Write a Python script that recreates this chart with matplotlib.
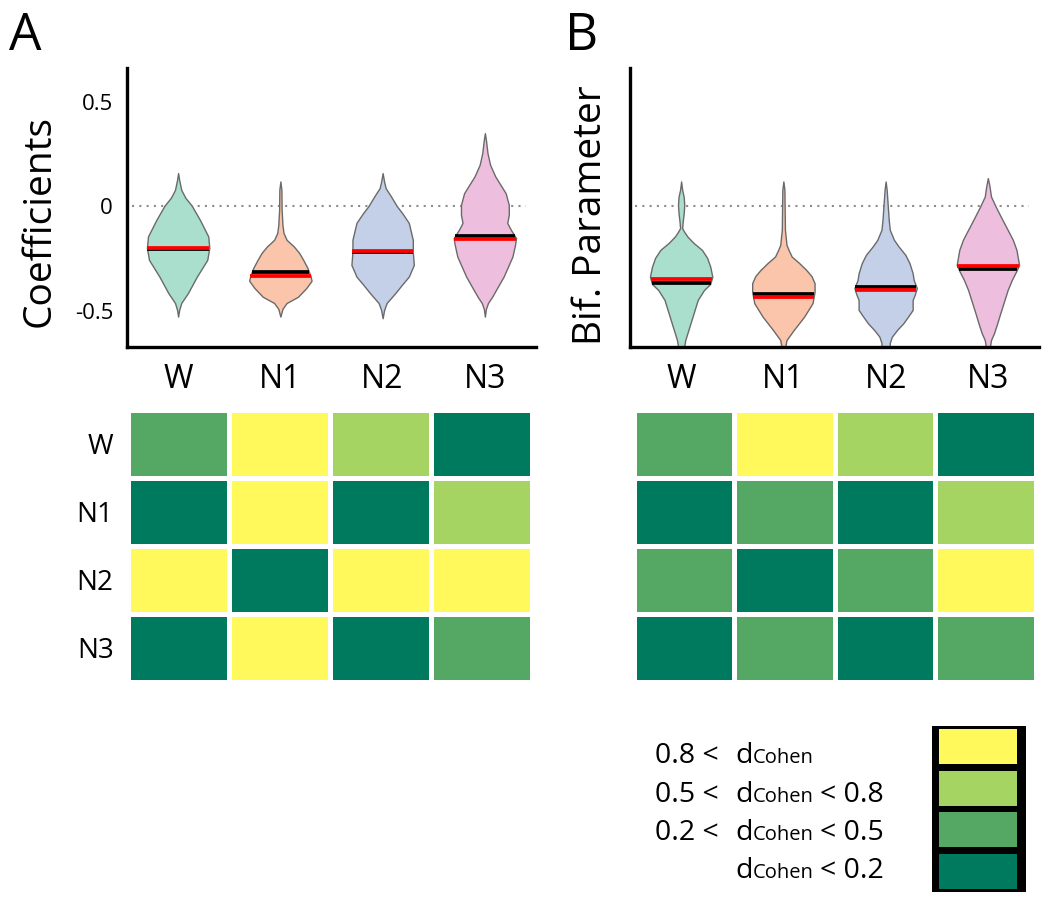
import numpy as np
import matplotlib
matplotlib.use("Agg")
import matplotlib.pyplot as plt
from matplotlib.colors import ListedColormap, BoundaryNorm

plt.rcParams['font.family'] = ['Open Sans', 'DejaVu Sans']

# ---------------- data ----------------
stages = ["W", "N1", "N2", "N3"]
violin_colors = ["#AADECD", "#FAC5AA", "#C4D0E8", "#EEBEDE"]

# violin profiles: (value, relative density) from bottom to top
coef_W = [(-0.527, 0), (-0.495, 1), (-0.462, 3), (-0.414, 9.5), (-0.336, 18), (-0.256, 28), (-0.199, 30),
          (-0.144, 29), (-0.065, 21), (0.004, 13), (0.041, 7), (0.079, 3), (0.127, 1), (0.159, 0)]
coef_N1 = [(-0.527, 0), (-0.490, 2), (-0.462, 6), (-0.432, 17), (-0.390, 25), (-0.356, 30), (-0.333, 29),
           (-0.294, 26), (-0.256, 22), (-0.222, 18), (-0.192, 13), (-0.160, 6), (-0.127, 3), (-0.089, 2),
           (-0.017, 1.2), (0.079, 1), (0.119, 0)]
coef_N2 = [(-0.535, 0), (-0.495, 1.5), (-0.462, 4), (-0.415, 12.5), (-0.376, 19), (-0.336, 26), (-0.280, 31),
           (-0.218, 30), (-0.160, 30), (-0.079, 26), (-0.036, 20), (0.002, 14), (0.050, 8), (0.087, 3),
           (0.117, 1.5), (0.159, 0)]
coef_N3 = [(-0.527, 0), (-0.490, 1), (-0.462, 3), (-0.432, 7), (-0.336, 18), (-0.240, 26.5), (-0.184, 29),
           (-0.152, 30), (-0.112, 25), (-0.079, 21.5), (-0.041, 23), (0.007, 23), (0.063, 20), (0.103, 15),
           (0.143, 10), (0.199, 5), (0.255, 2.5), (0.318, 1), (0.350, 0)]
coef_means = [-0.200, -0.333, -0.214, -0.157]
coef_medians = [-0.205, -0.316, -0.218, -0.141]

bif_W = [(-0.700, 2), (-0.667, 3), (-0.639, 4), (-0.591, 7), (-0.543, 10), (-0.495, 13), (-0.447, 16),
         (-0.400, 22), (-0.371, 28), (-0.336, 30), (-0.288, 28), (-0.246, 25), (-0.208, 20), (-0.175, 12),
         (-0.144, 6), (-0.122, 3), (-0.104, 1), (-0.074, 1.5), (-0.032, 2.5), (0.007, 3), (0.045, 2.5),
         (0.079, 1), (0.119, 0)]
bif_N1 = [(-0.700, 1.5), (-0.667, 2), (-0.639, 3), (-0.591, 10), (-0.527, 20), (-0.463, 28), (-0.409, 30),
          (-0.367, 30), (-0.333, 27), (-0.304, 22), (-0.270, 15), (-0.240, 8), (-0.208, 5), (-0.184, 3),
          (-0.112, 1.5), (0.079, 1), (0.119, 0)]
bif_N2 = [(-0.700, 4), (-0.653, 4), (-0.623, 6), (-0.591, 11), (-0.559, 17), (-0.524, 22), (-0.495, 26),
          (-0.447, 26), (-0.423, 28), (-0.391, 30), (-0.352, 27), (-0.320, 26), (-0.272, 23), (-0.232, 19),
          (-0.192, 12.5), (-0.160, 8), (-0.112, 4), (-0.065, 3), (0.007, 2), (0.079, 1), (0.119, 0)]
bif_N3 = [(-0.700, 1), (-0.639, 3), (-0.605, 6), (-0.559, 9), (-0.510, 12), (-0.463, 15), (-0.400, 19),
          (-0.352, 23), (-0.313, 27), (-0.280, 30), (-0.208, 27.5), (-0.160, 24), (-0.112, 19), (-0.055, 13),
          (-0.001, 7.5), (0.047, 3), (0.098, 1.5), (0.135, 0)]
bif_means = [-0.348, -0.432, -0.400, -0.285]
bif_medians = [-0.365, -0.419, -0.384, -0.300]

# effect-size categories: 0: d<0.2, 1: 0.2-0.5, 2: 0.5-0.8, 3: >0.8
effect_A = [[1, 3, 2, 0],
            [0, 3, 0, 2],
            [3, 0, 3, 3],
            [0, 3, 0, 1]]
effect_B = [[1, 3, 2, 0],
            [0, 1, 0, 2],
            [1, 0, 1, 3],
            [0, 1, 0, 1]]
effect_colors = ["#007A5E", "#55A864", "#A6D463", "#FFF95C"]
legend_prefix = ["0.8 <", "0.5 <", "0.2 <", ""]
legend_suffix = ["", "< 0.8", "< 0.5", "< 0.2"]

# ---------------- figure ----------------
W, H = 1050, 900
fig = plt.figure(figsize=(W / 100, H / 100), dpi=100)


def frac(x0, y0, x1, y1):
    return [x0 / W, 1 - y1 / H, (x1 - x0) / W, (y1 - y0) / H]


VW = 0.61


def violin_panel(ax, profiles, means, medians, yticks):
    stats = []
    for prof, m, md in zip(profiles, means, medians):
        arr = np.array(prof, dtype=float)
        stats.append(dict(coords=arr[:, 0], vals=arr[:, 1], mean=m, median=md,
                          min=arr[0, 0], max=arr[-1, 0]))
    pos = np.arange(len(profiles))
    parts = ax.violin(stats, positions=pos, widths=VW, showextrema=False)
    for body, c in zip(parts['bodies'], violin_colors):
        body.set_facecolor(c)
        body.set_edgecolor('#6A6A6A')
        body.set_linewidth(1.0)
        body.set_alpha(1)
        body.set_zorder(2)
    for i, st in enumerate(stats):
        mx = st['vals'].max()
        for val, col, z in ((st['median'], 'black', 3), (st['mean'], '#FF0000', 4)):
            hw = np.interp(val, st['coords'], st['vals']) / mx * VW / 2
            ax.plot([i - hw, i + hw], [val, val], color=col, lw=2.7, solid_capstyle='butt', zorder=z)
    ax.plot([-0.45, 3.4], [0, 0], color='#8C8C8C', lw=1.5, linestyle=(0, (1, 2.5)), zorder=1)
    ax.set_xlim(-0.5, 3.5)
    ax.set_ylim(-0.67, 0.66)
    for s in ('top', 'right'):
        ax.spines[s].set_visible(False)
    for s in ('left', 'bottom'):
        ax.spines[s].set_linewidth(2.4)
    ax.set_xticks(pos)
    ax.set_xticklabels(stages, fontsize=23)
    ax.tick_params(axis='x', length=0, pad=12)
    if yticks:
        ax.set_yticks([-0.5, 0, 0.5])
        ax.set_yticklabels(['-0.5', '0', '0.5'], fontsize=16)
        ax.tick_params(axis='y', length=0, pad=10)
    else:
        ax.set_yticks([])
    ax.set_facecolor('none')


axA = fig.add_axes(frac(127, 68.3, 536, 346.5))
violin_panel(axA, [coef_W, coef_N1, coef_N2, coef_N3], coef_means, coef_medians, True)
axB = fig.add_axes(frac(630, 68.3, 1039, 346.5))
violin_panel(axB, [bif_W, bif_N1, bif_N2, bif_N3], bif_means, bif_medians, False)

fig.text(40 / W, 1 - 221 / H, "Coefficients", rotation=90, fontsize=28, ha='center', va='center')
fig.text(591 / W, 1 - 215 / H, "Bif. Parameter", rotation=90, fontsize=28, ha='center', va='center')
fig.text(9 / W, 1 - 50 / H, "A", fontsize=37, ha='left', va='baseline')
fig.text(565 / W, 1 - 50 / H, "B", fontsize=37, ha='left', va='baseline')

cmap = ListedColormap(effect_colors)
norm = BoundaryNorm([-0.5, 0.5, 1.5, 2.5, 3.5], cmap.N)


def heat_panel(ax, data, labels):
    ax.pcolormesh(np.arange(5), np.arange(5), np.array(data), cmap=cmap, norm=norm,
                  edgecolors='white', linewidth=3.6)
    ax.set_xlim(0, 4)
    ax.set_ylim(4, 0)
    for s in ax.spines.values():
        s.set_visible(False)
    ax.set_xticks([])
    if labels:
        ax.set_yticks(np.arange(4) + 0.5)
        ax.set_yticklabels(stages, fontsize=20)
        ax.tick_params(axis='y', length=0, pad=10)
    else:
        ax.set_yticks([])


hA = fig.add_axes(frac(127.5, 409.5, 531.5, 681.5))
heat_panel(hA, effect_A, True)
hB = fig.add_axes(frac(633.5, 409.5, 1035.5, 681.5))
heat_panel(hB, effect_B, False)

# legend box
lg = fig.add_axes(frac(932, 726, 1026, 892))
lg.set_facecolor('black')
lg.barh(np.arange(4) + 0.5, 0.83, left=0.074, height=0.84, color=effect_colors[::-1])
lg.set_xlim(0, 1)
lg.set_ylim(4, 0)
lg.set_xticks([])
lg.set_yticks([])
for s in lg.spines.values():
    s.set_visible(False)

baselines = [763, 802, 840, 878]
for pre, suf, yb in zip(legend_prefix, legend_suffix, baselines):
    yf = 1 - yb / H
    if pre:
        fig.text(655 / W, yf, pre, fontsize=20.5, ha='left', va='baseline')
    td = fig.text(735 / W, yf, "d", fontsize=20.5, ha='left', va='baseline')
    tc = plt.annotate("Cohen", xy=(1, yf), xycoords=(td, 'figure fraction'),
                      fontsize=14.5, ha='left', va='baseline', annotation_clip=False)
    if suf:
        plt.annotate(suf, xy=(1, yf), xycoords=(tc, 'figure fraction'),
                     xytext=(4.5, 0), textcoords='offset points',
                     fontsize=20.5, ha='left', va='baseline', annotation_clip=False)

fig.savefig("out.png", dpi=100)
